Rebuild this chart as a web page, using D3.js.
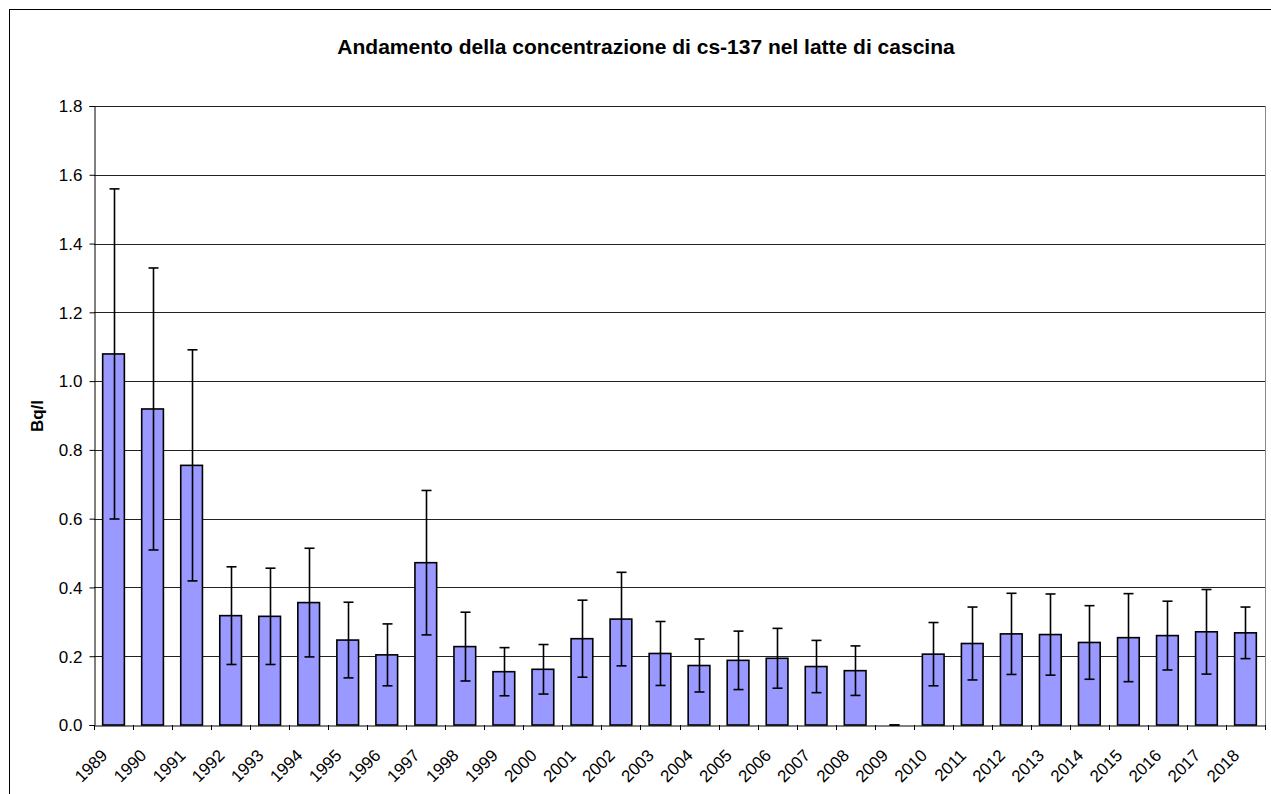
<!DOCTYPE html>
<html><head><meta charset="utf-8">
<script src="https://cdn.jsdelivr.net/npm/d3@7"></script>
<style>html,body{margin:0;padding:0;background:#fff;overflow:hidden}</style>
</head><body>
<script>
const years = ["1989","1990","1991","1992","1993","1994","1995","1996","1997","1998","1999","2000","2001","2002","2003","2004","2005","2006","2007","2008","2009","2010","2011","2012","2013","2014","2015","2016","2017","2018"];
const values = [1.079,0.919,0.755,0.318,0.316,0.356,0.247,0.204,0.472,0.228,0.155,0.162,0.251,0.308,0.208,0.173,0.188,0.194,0.170,0.158,0.0,0.206,0.237,0.265,0.263,0.240,0.254,0.260,0.271,0.268];
const errors = [0.480,0.410,0.336,0.142,0.140,0.158,0.110,0.090,0.210,0.100,0.070,0.072,0.112,0.136,0.093,0.077,0.085,0.087,0.076,0.072,0.0,0.092,0.106,0.118,0.118,0.107,0.128,0.100,0.123,0.075];
const yTicks = [0,0.2,0.4,0.6,0.8,1.0,1.2,1.4,1.6,1.8];
const title = "Andamento della concentrazione di cs-137 nel latte di cascina";
const yLabel = "Bq/l";

const W = 1271, H = 794;
const plot = {left: 94, right: 1265, top: 106, bottom: 725};
const font = "'Liberation Sans', Arial, sans-serif";

const svg = d3.select("body").append("svg").attr("width", W).attr("height", H);
svg.append("rect").attr("x", 0).attr("y", 0).attr("width", W).attr("height", H).attr("fill", "#fff");
svg.append("rect").attr("x", 9.5).attr("y", 9.5).attr("width", W + 20).attr("height", H + 20)
  .attr("fill", "none").attr("stroke", "#000").attr("stroke-width", 1);

const x = d3.scaleBand().domain(years).range([plot.left, plot.right]).paddingInner(0.444).paddingOuter(0.222);
const xb = d3.scaleBand().domain(years).range([plot.left, plot.right]);
const y = d3.scaleLinear().domain([0, 1.8]).range([plot.bottom, plot.top]);

// gridlines
svg.append("g").selectAll("line").data(yTicks.filter(d => d > 0)).join("line")
  .attr("x1", plot.left).attr("x2", plot.right)
  .attr("y1", d => Math.round(y(d)) + 0.5).attr("y2", d => Math.round(y(d)) + 0.5)
  .attr("stroke", "#222").attr("stroke-width", 1);
// right border of plot
svg.append("line").attr("x1", plot.right + 0.5).attr("x2", plot.right + 0.5)
  .attr("y1", plot.top).attr("y2", plot.bottom).attr("stroke", "#888").attr("stroke-width", 1);

// bars
svg.append("g").selectAll("rect").data(years).join("rect")
  .attr("x", d => x(d)).attr("width", x.bandwidth())
  .attr("y", (d, i) => y(values[i])).attr("height", (d, i) => y(0) - y(values[i]))
  .attr("fill", "#9999FF").attr("stroke", "#000").attr("stroke-width", 1.6)
  .style("display", (d, i) => values[i] > 0 ? null : "none");

// error bars
const eg = svg.append("g").attr("stroke", "#000").attr("stroke-width", 1.6);
years.forEach((d, i) => {
  const cx = Math.round(x(d) + x.bandwidth() / 2) + 0.5;
  const hi = y(values[i] + errors[i]), lo = y(values[i] - errors[i]);
  eg.append("line").attr("x1", cx).attr("x2", cx).attr("y1", hi).attr("y2", lo);
  eg.append("line").attr("x1", cx - 5).attr("x2", cx + 5).attr("y1", hi).attr("y2", hi);
  eg.append("line").attr("x1", cx - 5).attr("x2", cx + 5).attr("y1", lo).attr("y2", lo);
});

// y axis
const yAxis = svg.append("g").attr("transform", `translate(${plot.left + 0.5},0)`)
  .call(d3.axisLeft(y).tickValues(yTicks).tickFormat(d3.format(".1f")).tickSizeOuter(0).tickSize(5).tickPadding(7));
yAxis.select(".domain").attr("stroke", "#000");
yAxis.selectAll("line").attr("stroke", "#000");
yAxis.selectAll("text").attr("font-family", font).attr("font-size", 17).attr("fill", "#000").attr("dy", "0.34em");

// x axis
const xAxis = svg.append("g").attr("transform", `translate(0,${plot.bottom + 0.5})`)
  .call(d3.axisBottom(xb).tickSize(0).tickSizeOuter(0).tickPadding(0));
xAxis.select(".domain").attr("stroke", "#000");
xAxis.selectAll(".tick line").remove();
// boundary ticks
svg.append("g").selectAll("line").data(years.concat(["end"])).join("line")
  .attr("x1", (d, i) => Math.round(plot.left + i * xb.step()) + 0.5)
  .attr("x2", (d, i) => Math.round(plot.left + i * xb.step()) + 0.5)
  .attr("y1", plot.bottom).attr("y2", plot.bottom + 5).attr("stroke", "#000");
xAxis.selectAll(".tick text")
  .attr("font-family", font).attr("font-size", 17).attr("fill", "#000")
  .attr("text-anchor", "end").attr("dy", 0).attr("y", 0)
  .attr("transform", "translate(-5,31) rotate(-45)");

// title
svg.append("text").attr("x", 646).attr("y", 54).attr("text-anchor", "middle")
  .attr("font-family", font).attr("font-size", 21).attr("font-weight", "bold").text(title);
// y label
svg.append("text").attr("transform", "translate(43,416) rotate(-90)").attr("text-anchor", "middle")
  .attr("font-family", font).attr("font-size", 17).attr("font-weight", "bold").text(yLabel);
</script>
</body></html>
